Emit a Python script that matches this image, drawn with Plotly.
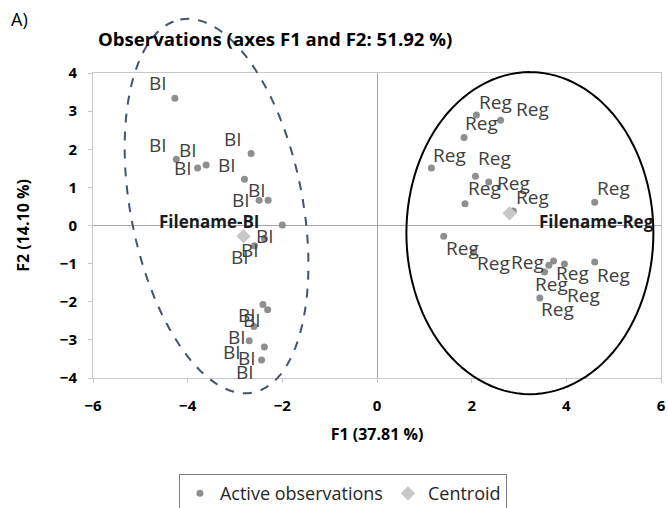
import math
import plotly.graph_objects as go

# ---------------- data ----------------
bi_f1 = [-4.27, -4.24, -3.79, -3.61, -2.66, -2.80, -2.49, -2.30, -2.00, -2.38, -2.59,
         -2.41, -2.31, -2.60, -2.70, -2.38, -2.44]
bi_f2 = [3.34, 1.74, 1.51, 1.59, 1.89, 1.21, 0.66, 0.66, 0.01, -0.34, -0.53,
         -2.07, -2.21, -2.65, -3.02, -3.19, -3.53]
bi_labels = ["BI"] * len(bi_f1)

reg_f1 = [2.10, 2.61, 1.84, 1.15, 2.08, 2.36, 1.86, 4.60, 2.88,
          1.41, 2.04, 3.73, 4.60, 3.44, 3.54, 3.63, 3.96]
reg_f2 = [2.90, 2.76, 2.31, 1.51, 1.29, 1.14, 0.57, 0.61, 0.38,
          -0.28, -0.70, -0.93, -0.96, -1.90, -1.22, -1.04, -1.01]
reg_labels = ["Reg"] * len(reg_f1)

centroid_f1 = [-2.82, 2.80]
centroid_f2 = [-0.28, 0.32]
centroid_labels = ["Filename-BI", "Filename-Reg"]

# ---------------- style ----------------
FONT = "Open Sans"
L, R, T, B = 93, 7, 73, 130
W, H = 668, 508
PW, PH = W - L - R, H - T - B
XR, YR = (-6, 6), (-4, 4)
PX_X = PW / (XR[1] - XR[0])
PX_Y = PH / (YR[1] - YR[0])

# label offsets (pixels: right, up)
bi_off = [(-17, 15), (-18, 14), (-15, 0), (-18, 15), (-18, 14), (-17, 14), (-18, 0), (-11, 10),
          (-17, -11), (-14, -12), (-14, -11),
          (-16, -11), (-16, -10), (-17, -10), (-17, -11), (-17, -11), (-17, -12)]
reg_off = [(19, 13), (32, 11), (17, 14), (18, 13), (19, 18), (25, -1), (19, 16), (19, 14), (19, 14),
           (19, -12), (20, -11), (19, -12), (19, -13), (18, -11), (-17, 10), (3, -19), (19, -31)]
cen_off = [(-35, 15), (87, -8)]

fig = go.Figure()
fig.add_trace(go.Scatter(
    x=bi_f1 + reg_f1, y=bi_f2 + reg_f2, mode="markers", name="Active observations",
    marker=dict(color="#8f8f8f", size=7), hoverinfo="skip"))
fig.add_trace(go.Scatter(
    x=centroid_f1, y=centroid_f2, mode="markers", name="Centroid",
    marker=dict(color="#c8c8c8", size=11, symbol="diamond"), hoverinfo="skip"))

ann = []
for xs, ys, labs, offs in [(bi_f1, bi_f2, bi_labels, bi_off), (reg_f1, reg_f2, reg_labels, reg_off)]:
    for x, y, t, (dx, dy) in zip(xs, ys, labs, offs):
        ann.append(dict(x=x, y=y, text=t, showarrow=False, xshift=dx, yshift=dy,
                        font=dict(family=FONT, size=19, color="#404040")))
for x, y, t, (dx, dy) in zip(centroid_f1, centroid_f2, centroid_labels, cen_off):
    ann.append(dict(x=x, y=y, text="<b>%s</b>" % t, showarrow=False, xshift=dx, yshift=dy,
                    font=dict(family=FONT, size=17, color="#1a1a1a")))

ann.append(dict(xref="paper", yref="paper", x=(96 - L) / PW, y=(T + PH - 38) / PH,
                xanchor="left", yanchor="middle", showarrow=False,
                text="<b>Observations (axes F1 and F2: 51.92 %)</b>",
                font=dict(family=FONT, size=18.6, color="#000000")))
ann.append(dict(xref="paper", yref="paper", x=(9 - L) / PW, y=(T + PH - 19) / PH,
                xanchor="left", yanchor="middle", showarrow=False, text="A)",
                font=dict(family=FONT, size=18, color="#000000")))


def ellipse_path(cx, cy, a_px, b_px, tilt_deg, n=120):
    th = math.radians(tilt_deg)
    u = (-math.sin(th), math.cos(th))
    v = (math.cos(th), math.sin(th))
    pts = []
    for i in range(n + 1):
        t = 2 * math.pi * i / n
        ox = a_px * math.cos(t) * u[0] + b_px * math.sin(t) * v[0]
        oy = a_px * math.cos(t) * u[1] + b_px * math.sin(t) * v[1]
        x = cx + ox / PX_X
        y = cy + oy / PX_Y
        px = (x - XR[0]) / (XR[1] - XR[0])
        py = (y - YR[0]) / (YR[1] - YR[0])
        pts.append("%s%.5f,%.5f" % ("M" if i == 0 else "L", px, py))
    return " ".join(pts) + " Z"


shapes = [
    dict(type="path", xref="paper", yref="paper", path=ellipse_path(-3.39, 0.51, 190, 86, 11),
         line=dict(color="#44546a", width=2, dash="dash"), layer="above"),
    dict(type="path", xref="paper", yref="paper", path=ellipse_path(3.23, -0.20, 161, 123.5, 0),
         line=dict(color="#000000", width=2), layer="above"),
]

fig.update_layout(
    width=W, height=H, margin=dict(l=L, r=R, t=T, b=B, autoexpand=False),
    paper_bgcolor="white", plot_bgcolor="white",
    font=dict(family=FONT, color="#000000"),
    annotations=ann, shapes=shapes,
    legend=dict(orientation="h", x=0.44, xanchor="center", y=-0.315, yanchor="top",
                bordercolor="#7f7f7f", borderwidth=1, font=dict(family=FONT, size=18, color="#262626"),
                itemclick=False, itemwidth=30),
    xaxis=dict(range=list(XR), dtick=2, showgrid=False, zeroline=True, zerolinecolor="#a6a6a6",
               zerolinewidth=1, showline=True, mirror=True, linecolor="#c8c8c8", linewidth=1,
               ticks="outside", ticklen=4, tickcolor="#c8c8c8", ticklabelstandoff=10, automargin=False,
               tickfont=dict(family=FONT, size=15, color="#000000"), tickprefix="<b>", ticksuffix="</b>",
               title=dict(text="<b>F1 (37.81 %)</b>", font=dict(family=FONT, size=16), standoff=14)),
    yaxis=dict(range=list(YR), dtick=1, showgrid=False, zeroline=True, zerolinecolor="#a6a6a6",
               zerolinewidth=1, showline=True, mirror=True, linecolor="#c8c8c8", linewidth=1,
               ticks="outside", ticklen=4, tickcolor="#c8c8c8", ticklabelstandoff=8, automargin=False,
               tickfont=dict(family=FONT, size=15, color="#000000"), tickprefix="<b>", ticksuffix="</b>",
               title=dict(text="<b>F2 (14.10 %)</b>", font=dict(family=FONT, size=16), standoff=26)),
)

fig.write_html("out.html")
